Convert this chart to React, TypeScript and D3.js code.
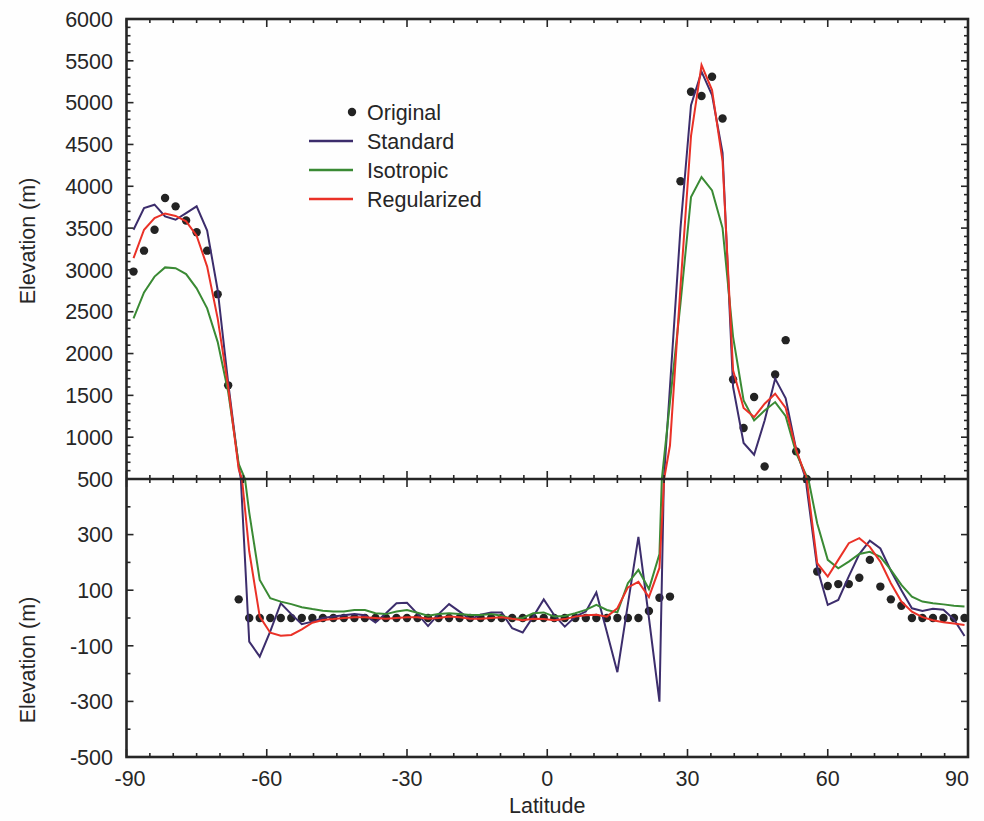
import React from 'react';
import * as d3 from 'd3';

// Latitude grid (cell centres), degrees
const LAT = [
  -88.5, -86.25, -84, -81.75, -79.5, -77.25, -75, -72.75, -70.5, -68.25,
  -66, -63.75, -61.5, -59.25, -57, -54.75, -52.5, -50.25, -48, -45.75,
  -43.5, -41.25, -39, -36.75, -34.5, -32.25, -30, -27.75, -25.5, -23.25,
  -21, -18.75, -16.5, -14.25, -12, -9.75, -7.5, -5.25, -3, -0.75,
  1.5, 3.75, 6, 8.25, 10.5, 12.75, 15, 17.25, 19.5, 21.75,
  24, 26.25, 28.5, 30.75, 33, 35.25, 37.5, 39.75, 42, 44.25,
  46.5, 48.75, 51, 53.25, 55.5, 57.75, 60, 62.25, 64.5, 66.75,
  69, 71.25, 73.5, 75.75, 78, 80.25, 82.5, 84.75, 87, 89.25,
];

const ORIGINAL = [
  2980, 3230, 3480, 3860, 3760, 3590, 3450, 3230, 2710, 1620,
  67, 0, 0, 0, 0, 0, 0, 0, 0, 0,
  0, 0, 0, 0, 0, 0, 0, 0, 0, 0,
  0, 0, 0, 0, 0, 0, 0, 0, 0, 0,
  0, 0, 0, 0, 0, 0, 0, 0, 0, 25,
  73, 77, 4060, 5130, 5080, 5310, 4810, 1690, 1110, 1480,
  650, 1750, 2160, 830, 500, 167, 115, 122, 122, 145,
  209, 113, 67, 44, 0, 0, 0, 0, 0, 0,
];

const STANDARD = [
  3480, 3740, 3780, 3640, 3600, 3680, 3760, 3470, 2760, 1650,
  650, -85, -139, -48, 53, 14, -22, -13, 0, 5,
  10, 14, 10, -16, 17, 53, 55, 15, -29, 14,
  50, 23, -5, 12, 20, 20, -37, -52, 5, 67,
  10, -31, 5, 23, 92, -50, -195, 50, 292, 0,
  -301, 1600, 3500, 4970, 5370, 5090, 4400, 1600, 930, 790,
  1200, 1700, 1465, 850, 470, 180, 47, 65, 150, 230,
  278, 250, 170, 100, 35, 25, 33, 30, -5, -65,
];

const ISOTROPIC = [
  2420, 2730, 2920, 3030, 3020, 2950, 2780, 2540, 2140, 1540,
  680, 380, 137, 71, 59, 50, 39, 32, 26, 23,
  23, 29, 29, 17, 14, 23, 29, 19, 8, 14,
  17, 14, 11, 11, 14, 8, -4, 0, 17, 20,
  5, 7, 17, 29, 47, 29, 20, 125, 173, 104,
  230, 1420, 2600, 3870, 4110, 3950, 3500, 2200, 1440, 1200,
  1320, 1420, 1250, 810, 530, 340, 209, 179, 203, 230,
  238, 220, 173, 119, 77, 59, 53, 49, 44, 41,
];

const REGULARIZED = [
  3140, 3480, 3620, 3675, 3645, 3580, 3410, 3040, 2420, 1600,
  620, 240, 5, -53, -64, -61, -41, -17, -7, -4,
  0, 3, 3, 0, -3, 0, 3, 3, -3, 0,
  5, 3, -3, -3, 0, 3, -3, -8, -3, -4,
  -8, -4, 5, 10, 12, 5, 35, 110, 130, 75,
  180, 900, 2800, 4600, 5450, 5150, 4300, 1800, 1350, 1240,
  1400, 1520, 1350, 850, 500, 197, 149, 209, 269, 287,
  256, 203, 125, 59, 23, 3, -8, -15, -20, -25,
];

const SERIES_NAMES = ['Standard', 'Isotropic', 'Regularized'];
const X_LABELS = [-90, -60, -30, 0, 30, 60, 90];
const TOP_LABELS = [500, 1000, 1500, 2000, 2500, 3000, 3500, 4000, 4500, 5000, 5500, 6000];
const BOTTOM_LABELS = [-500, -300, -100, 100, 300];

const W = 984;
const H = 821;
const L = 126.5;
const R = 968;
const T = 19;
const M = 479;
const B = 757;
const FONT = '"Liberation Sans", Arial, Helvetica, sans-serif';
const INK = '#262626';
const COLORS = ['#3c2d6c', '#3a8a34', '#ea3127'];

export default function App() {
  const x = d3.scaleLinear().domain([-90, 90]).range([L, R]);
  const yTop = d3.scaleLinear().domain([500, 6000]).range([M, T]);
  const yBot = d3.scaleLinear().domain([-500, 500]).range([B, M]);
  const seriesValues = [STANDARD, ISOTROPIC, REGULARIZED];

  const panels = [
    { id: 'clipTop', y: yTop, y0: T, y1: M },
    { id: 'clipBot', y: yBot, y0: M, y1: B },
  ];

  const xTicks = d3.range(-90, 91, 5);
  const topTicks = d3.range(500, 6001, 100);
  const botTicks = d3.range(-500, 501, 100);

  const tickLines: React.ReactNode[] = [];
  xTicks.forEach((v) => {
    const major = v % 30 === 0;
    const len = major ? 8 : 4;
    const px = x(v);
    tickLines.push(<line key={'xt' + v} x1={px} x2={px} y1={T} y2={T + len} />);
    tickLines.push(<line key={'xm' + v} x1={px} x2={px} y1={M - len} y2={M + len} />);
    tickLines.push(<line key={'xb' + v} x1={px} x2={px} y1={B - len} y2={B} />);
  });
  topTicks.forEach((v) => {
    const major = v % 500 === 0;
    const len = major ? 7 : 4;
    const py = yTop(v);
    tickLines.push(<line key={'yl' + v} x1={L} x2={L + len} y1={py} y2={py} />);
    tickLines.push(<line key={'yr' + v} x1={R - len} x2={R} y1={py} y2={py} />);
  });
  botTicks.forEach((v) => {
    const major = BOTTOM_LABELS.includes(v);
    const len = major ? 7 : 4;
    const py = yBot(v);
    tickLines.push(<line key={'bl' + v} x1={L} x2={L + len} y1={py} y2={py} />);
    tickLines.push(<line key={'br' + v} x1={R - len} x2={R} y1={py} y2={py} />);
  });

  return (
    <svg
      width={W}
      height={H}
      viewBox={`0 0 ${W} ${H}`}
      style={{ position: 'absolute', left: 0, top: 0, background: '#fefefe' }}
      fontFamily={FONT}
    >
      <defs>
        {panels.map((p) => (
          <clipPath id={p.id} key={p.id}>
            <rect x={L} y={p.y0} width={R - L} height={p.y1 - p.y0} />
          </clipPath>
        ))}
      </defs>
      <rect x={0} y={0} width={W} height={H} fill="#fefefe" />

      {panels.map((p) => {
        const line = d3
          .line<number>()
          .x((_, i) => x(LAT[i]))
          .y((d) => p.y(d));
        return (
          <g key={p.id} clipPath={`url(#${p.id})`}>
            {ORIGINAL.map((v, i) => (
              <circle key={i} cx={x(LAT[i])} cy={p.y(v)} r={4.2} fill="#232323" />
            ))}
            {seriesValues.map((vals, si) => (
              <path
                key={si}
                d={line(vals) || ''}
                fill="none"
                stroke={COLORS[si]}
                strokeWidth={2}
                strokeLinejoin="miter"
              />
            ))}
          </g>
        );
      })}

      {/* frame */}
      <g stroke={INK} strokeWidth={1.6}>{tickLines}</g>
      <rect x={L} y={T} width={R - L} height={B - T} fill="none" stroke={INK} strokeWidth={2.6} />
      <line x1={L} x2={R} y1={M} y2={M} stroke={INK} strokeWidth={2.4} />

      {/* y labels */}
      <g fontSize={21.5} fill={INK} textAnchor="end">
        {TOP_LABELS.map((v) => (
          <text key={'tl' + v} x={113} y={yTop(v)} dy="0.36em">
            {v}
          </text>
        ))}
        {BOTTOM_LABELS.map((v) => (
          <text key={'bl' + v} x={113} y={yBot(v)} dy="0.36em">
            {v}
          </text>
        ))}
      </g>

      {/* x labels */}
      <g fontSize={21.5} fill={INK}>
        {X_LABELS.map((v) => {
          const anchor = v === -90 ? 'start' : v === 90 ? 'end' : 'middle';
          const px = v === -90 ? x(v) - 12 : v === 90 ? x(v) + 1 : x(v);
          return (
            <text key={'xl' + v} x={px} y={786} textAnchor={anchor}>
              {v}
            </text>
          );
        })}
      </g>

      {/* axis titles */}
      <g fontSize={21.5} fill={INK} textAnchor="middle">
        <text transform={`translate(35,241) rotate(-90)`}>Elevation (m)</text>
        <text transform={`translate(35,660) rotate(-90)`}>Elevation (m)</text>
        <text x={(L + R) / 2} y={813}>Latitude</text>
      </g>

      {/* legend */}
      <g fontSize={21.5} fill={INK}>
        <circle cx={352} cy={112} r={4.2} fill="#232323" />
        <text x={367} y={120}>Original</text>
        {SERIES_NAMES.map((name, i) => (
          <g key={name}>
            <line x1={309} x2={353} y1={141 + i * 29} y2={141 + i * 29} stroke={COLORS[i]} strokeWidth={2.4} />
            <text x={367} y={149 + i * 29}>
              {name}
            </text>
          </g>
        ))}
      </g>
    </svg>
  );
}
